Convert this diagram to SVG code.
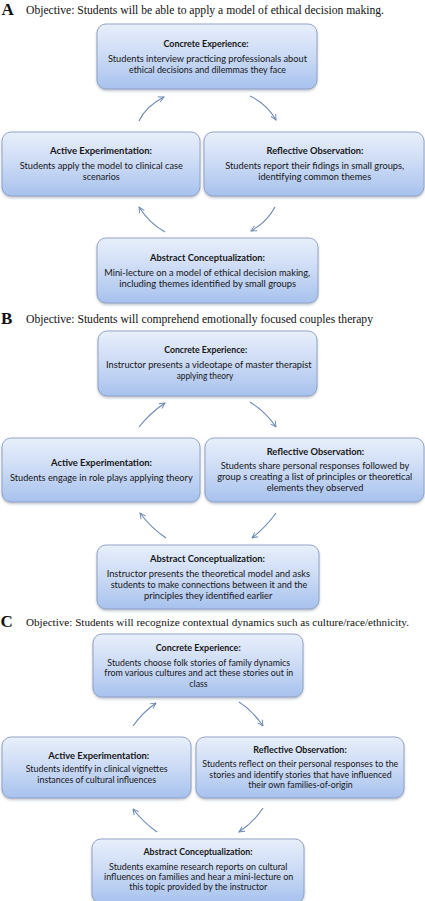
<svg xmlns="http://www.w3.org/2000/svg" width="425" height="901" viewBox="0 0 425 901">
<defs>
<linearGradient id="bg" x1="0" y1="0" x2="0" y2="1">
<stop offset="0" stop-color="#e8effb"/>
<stop offset="0.5" stop-color="#cbdaf5"/>
<stop offset="1" stop-color="#a7c2ee"/>
</linearGradient>
<filter id="sh" x="-5%" y="-10%" width="110%" height="125%">
<feDropShadow dx="0" dy="1.5" stdDeviation="1.2" flood-color="#3a4a6a" flood-opacity="0.35"/>
</filter>
<marker id="ah" viewBox="0 0 10 10" refX="9" refY="5" markerWidth="7" markerHeight="7" orient="auto" markerUnits="userSpaceOnUse">
<path d="M1,1 L9,5 L1,9" fill="none" stroke="#6a86b3" stroke-width="1.3"/>
</marker>
<style>
.box{fill:url(#bg);stroke:#8b9dc0;stroke-width:0.9;filter:url(#sh)}
.t{font-family:Lato,"Liberation Sans",sans-serif;font-size:9.2px;fill:#161616;text-anchor:middle}
.b{font-weight:bold}
.obj{font-family:"Liberation Serif",serif;font-size:12.8px;fill:#111}
.let{font-family:"Liberation Serif",serif;font-size:17px;font-weight:bold;fill:#111}
.arr{fill:none;stroke:#6a86b3;stroke-width:1.1;marker-end:url(#ah)}
</style>
</defs>
<rect width="425" height="901" fill="#ffffff"/>

<g id="titles">
<text class="let" x="1.5" y="15">A</text>
<text class="obj" x="26" y="13.5" style="font-size:12.2px" textLength="358" lengthAdjust="spacingAndGlyphs">Objective: Students will be able to apply a model of ethical decision making.</text>
<text class="let" x="1" y="324">B</text>
<text class="obj" x="26" y="322.7" textLength="347" lengthAdjust="spacingAndGlyphs">Objective: Students will comprehend emotionally focused couples therapy</text>
<text class="let" x="0.5" y="627">C</text>
<text class="obj" x="26" y="625.5" style="font-size:11.4px" textLength="383" lengthAdjust="spacingAndGlyphs">Objective: Students will recognize contextual dynamics such as culture/race/ethnicity.</text>
</g>

<g id="connectors">
<path class="arr" d="M139,121 Q146,106 164,97"/>
<path class="arr" d="M250,96 Q267,104 276,120"/>
<path class="arr" d="M275,207 Q267,222 251,231"/>
<path class="arr" d="M165,232 Q149,223 139,207"/>

<path class="arr" d="M139,427 Q150,413 165,403"/>
<path class="arr" d="M250,402 Q266,412 276,427"/>
<path class="arr" d="M276,513 Q266,527 252,538"/>
<path class="arr" d="M166,538 Q151,528 140,513"/>

<path class="arr" d="M133,726 Q143,712 156,703"/>
<path class="arr" d="M239,702 Q253,711 263,726"/>
<path class="arr" d="M263,808 Q254,822 239,832"/>
<path class="arr" d="M157,832 Q143,822 133,809"/>
</g>

<g id="A-concrete">
<rect class="box" x="97" y="24" width="220" height="65" rx="9"/>
<text class="t b" x="206" y="47" textLength="85" lengthAdjust="spacingAndGlyphs">Concrete Experience:</text>
<text class="t" x="207.5" y="62" textLength="199" lengthAdjust="spacingAndGlyphs">Students interview practicing professionals about</text>
<text class="t" x="207.5" y="73" textLength="157" lengthAdjust="spacingAndGlyphs">ethical decisions and dilemmas they face</text>
</g>
<g id="A-active">
<rect class="box" x="2" y="132" width="198" height="64" rx="9"/>
<text class="t b" x="101" y="154" textLength="102" lengthAdjust="spacingAndGlyphs">Active Experimentation:</text>
<text class="t" x="101.3" y="169" textLength="163" lengthAdjust="spacingAndGlyphs">Students apply the model to clinical case</text>
<text class="t" x="101.3" y="180" textLength="37" lengthAdjust="spacingAndGlyphs">scenarios</text>
</g>
<g id="A-reflective">
<rect class="box" x="204" y="132" width="220" height="64" rx="9"/>
<text class="t b" x="315" y="154" textLength="97" lengthAdjust="spacingAndGlyphs">Reflective Observation:</text>
<text class="t" x="314.7" y="169" textLength="179" lengthAdjust="spacingAndGlyphs">Students report their  fidings in small groups,</text>
<text class="t" x="314.7" y="180" textLength="113" lengthAdjust="spacingAndGlyphs">identifying common themes</text>
</g>
<g id="A-abstract">
<rect class="box" x="97" y="238" width="221" height="65" rx="9"/>
<text class="t b" x="207.5" y="261" textLength="115" lengthAdjust="spacingAndGlyphs">Abstract Conceptualization:</text>
<text class="t" x="207.2" y="276" textLength="206" lengthAdjust="spacingAndGlyphs">Mini-lecture on a model of ethical decision making,</text>
<text class="t" x="207.7" y="287" textLength="177" lengthAdjust="spacingAndGlyphs">including themes identified by small groups</text>
</g>

<g id="B-concrete">
<rect class="box" x="98" y="331" width="219" height="65" rx="9"/>
<text class="t b" x="205.7" y="353" textLength="83" lengthAdjust="spacingAndGlyphs">Concrete Experience:</text>
<text class="t" x="208.8" y="368" textLength="205.7" lengthAdjust="spacingAndGlyphs">Instructor presents a videotape of master therapist</text>
<text class="t" x="205" y="379" textLength="56.7" lengthAdjust="spacingAndGlyphs">applying theory</text>
</g>
<g id="B-active">
<rect class="box" x="2" y="438" width="198" height="64" rx="9"/>
<text class="t b" x="101.5" y="466" textLength="101" lengthAdjust="spacingAndGlyphs">Active Experimentation:</text>
<text class="t" x="101.3" y="481" textLength="182.7" lengthAdjust="spacingAndGlyphs">Students engage in role plays applying theory</text>
</g>
<g id="B-reflective">
<rect class="box" x="205" y="438" width="219" height="64" rx="9"/>
<text class="t b" x="315.5" y="455" textLength="97.6" lengthAdjust="spacingAndGlyphs">Reflective Observation:</text>
<text class="t" x="315" y="469" textLength="188.7" lengthAdjust="spacingAndGlyphs">Students share personal responses followed by</text>
<text class="t" x="314.8" y="480" textLength="195" lengthAdjust="spacingAndGlyphs">group s creating a list of principles or theoretical</text>
<text class="t" x="315" y="491" textLength="96.7" lengthAdjust="spacingAndGlyphs">elements they observed</text>
</g>
<g id="B-abstract">
<rect class="box" x="97" y="545" width="222" height="64" rx="9"/>
<text class="t b" x="207.5" y="562" textLength="115" lengthAdjust="spacingAndGlyphs">Abstract Conceptualization:</text>
<text class="t" x="208.3" y="577" textLength="203.3" lengthAdjust="spacingAndGlyphs">Instructor presents the theoretical model and asks</text>
<text class="t" x="209" y="588" textLength="196.7" lengthAdjust="spacingAndGlyphs">students to make connections between it and the</text>
<text class="t" x="208.2" y="599" textLength="128.3" lengthAdjust="spacingAndGlyphs">principles they identified earlier</text>
</g>

<g id="C-concrete">
<rect class="box" x="93" y="634" width="210" height="63" rx="9"/>
<text class="t b" x="198.2" y="651" textLength="85" lengthAdjust="spacingAndGlyphs">Concrete Experience:</text>
<text class="t" x="198.7" y="666" textLength="182.7" lengthAdjust="spacingAndGlyphs">Students choose folk stories of family dynamics</text>
<text class="t" x="198.8" y="676.3" textLength="189" lengthAdjust="spacingAndGlyphs">from various cultures and act these stories out in</text>
<text class="t" x="198.5" y="686.5" textLength="18.3" lengthAdjust="spacingAndGlyphs">class</text>
</g>
<g id="C-active">
<rect class="box" x="2" y="737" width="189" height="61" rx="9"/>
<text class="t b" x="98.8" y="759" textLength="101" lengthAdjust="spacingAndGlyphs">Active Experimentation:</text>
<text class="t" x="96.7" y="772" textLength="142" lengthAdjust="spacingAndGlyphs">Students  identify in clinical vignettes</text>
<text class="t" x="96.7" y="783" textLength="118.7" lengthAdjust="spacingAndGlyphs">instances of cultural influences</text>
</g>
<g id="C-reflective">
<rect class="box" x="196" y="737" width="208" height="61" rx="9"/>
<text class="t b" x="300" y="752.5" textLength="93.4" lengthAdjust="spacingAndGlyphs">Reflective Observation:</text>
<text class="t" x="300.3" y="767" textLength="196" lengthAdjust="spacingAndGlyphs">Students reflect on their personal responses to the</text>
<text class="t" x="300.5" y="777.5" textLength="182.3" lengthAdjust="spacingAndGlyphs">stories and identify stories that have influenced</text>
<text class="t" x="300.5" y="788" textLength="104.3" lengthAdjust="spacingAndGlyphs">their own families-of-origin</text>
</g>
<g id="C-abstract">
<rect class="box" x="92" y="839" width="212" height="64" rx="9"/>
<text class="t b" x="198" y="855" textLength="109" lengthAdjust="spacingAndGlyphs">Abstract Conceptualization:</text>
<text class="t" x="198.2" y="870" textLength="178.3" lengthAdjust="spacingAndGlyphs">Students examine research reports on cultural</text>
<text class="t" x="198.7" y="880" textLength="189.3" lengthAdjust="spacingAndGlyphs">influences on families and hear a mini-lecture on</text>
<text class="t" x="198.3" y="890" textLength="138" lengthAdjust="spacingAndGlyphs">this topic provided by the instructor</text>
</g>
</svg>
